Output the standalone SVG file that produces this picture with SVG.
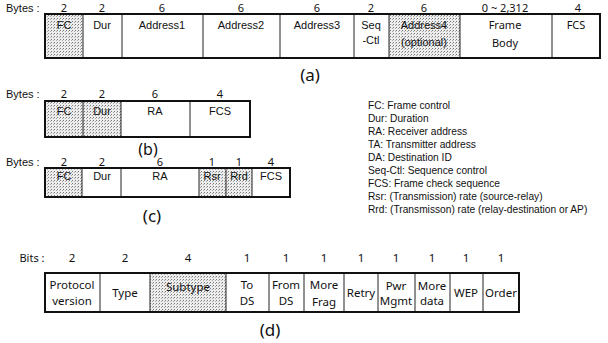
<svg xmlns="http://www.w3.org/2000/svg" width="608" height="343" viewBox="0 0 608 343">
<defs>
<pattern id="dots" width="3" height="3" patternUnits="userSpaceOnUse">
<rect width="3" height="3" fill="#eeeeee"/>
<rect x="0" y="0" width="1" height="1" fill="#777"/>
<rect x="2" y="1" width="1" height="1" fill="#a8a8a8"/>
</pattern>
</defs>
<style>
.frame{fill:none;stroke:#111;stroke-width:2}
.div{stroke:#222;stroke-width:1}
.sh{fill:url(#dots)}
.t{font-family:"Liberation Sans",Arial,sans-serif;font-size:11px;fill:#111;text-anchor:middle}
.n{font-family:"Noto Sans","Open Sans",sans-serif;font-size:11px;fill:#111;text-anchor:middle}
.h{font-family:"Liberation Sans",Arial,sans-serif;font-size:11px;fill:#111}
.d{font-family:"Noto Sans","Open Sans",sans-serif;font-size:11.5px;fill:#111;text-anchor:middle}
.cap{font-family:"Noto Sans","Open Sans",sans-serif;font-size:17px;fill:#111;text-anchor:middle}
.lg{font-family:"Liberation Sans",Arial,sans-serif;font-size:10.2px;fill:#111}
</style>

<g id="frame-a">
<text class="h" x="6" y="12">Bytes :</text>
<g class="n">
<text x="64" y="12">2</text><text x="102" y="12">2</text><text x="162" y="12">6</text><text x="241" y="12">6</text><text x="317" y="12">6</text><text x="371" y="12">2</text><text x="424" y="12">6</text><text x="505" y="12">0 ~ 2,312</text><text x="578" y="12">4</text>
</g>
<rect class="sh" x="45" y="14" width="38" height="44"/>
<rect class="sh" x="389" y="14" width="71" height="44"/>
<line class="div" x1="83" y1="14" x2="83" y2="58"/>
<line class="div" x1="122" y1="14" x2="122" y2="58"/>
<line class="div" x1="203" y1="14" x2="203" y2="58"/>
<line class="div" x1="280" y1="14" x2="280" y2="58"/>
<line class="div" x1="354" y1="14" x2="354" y2="58"/>
<line class="div" x1="389" y1="14" x2="389" y2="58"/>
<line class="div" x1="460" y1="14" x2="460" y2="58"/>
<line class="div" x1="552" y1="14" x2="552" y2="58"/>
<rect class="frame" x="45" y="14" width="555" height="44"/>
<g class="t">
<text x="64" y="29">FC</text><text x="102" y="29">Dur</text><text x="162" y="29">Address1</text><text x="241" y="29">Address2</text><text x="317" y="29">Address3</text>
<text x="371" y="29">Seq</text><text x="371" y="44">-Ctl</text>
<text x="424" y="29">Address4</text><text x="424" y="46">(optional)</text>
</g>
<g class="n">
<text x="505" y="29">Frame</text><text x="505" y="47">Body</text><text x="576" y="29">FCS</text>
</g>
<text class="cap" x="310" y="81">(a)</text>
</g>

<g id="frame-b">
<text class="h" x="6" y="98">Bytes :</text>
<g class="n">
<text x="64" y="98">2</text><text x="102" y="98">2</text><text x="155" y="98">6</text><text x="220" y="98">4</text>
</g>
<rect class="sh" x="45" y="101" width="76" height="36"/>
<line class="div" x1="83" y1="101" x2="83" y2="137"/>
<line class="div" x1="121" y1="101" x2="121" y2="137"/>
<line class="div" x1="190" y1="101" x2="190" y2="137"/>
<rect class="frame" x="45" y="101" width="205" height="36"/>
<g class="t">
<text x="64" y="115">FC</text><text x="102" y="115">Dur</text><text x="155" y="115">RA</text><text x="220" y="115">FCS</text>
</g>
<text class="cap" x="148" y="155" style="font-size:16px">(b)</text>
</g>

<g id="frame-c">
<text class="h" x="6" y="166">Bytes :</text>
<g class="n">
<text x="64" y="166">2</text><text x="102" y="166">2</text><text x="160" y="166">6</text><text x="212" y="166">1</text><text x="239" y="166">1</text><text x="271" y="166">4</text>
</g>
<rect class="sh" x="45" y="168" width="37" height="29"/>
<rect class="sh" x="199" y="168" width="53" height="29"/>
<line class="div" x1="82" y1="168" x2="82" y2="197"/>
<line class="div" x1="121" y1="168" x2="121" y2="197"/>
<line class="div" x1="199" y1="168" x2="199" y2="197"/>
<line class="div" x1="226" y1="168" x2="226" y2="197"/>
<line class="div" x1="252" y1="168" x2="252" y2="197"/>
<rect class="frame" x="45" y="168" width="245" height="29"/>
<g class="t">
<text x="64" y="180">FC</text><text x="102" y="180">Dur</text><text x="160" y="180">RA</text><text x="212" y="180">Rsr</text><text x="239" y="180">Rrd</text><text x="271" y="180">FCS</text>
</g>
<text class="cap" x="152" y="222">(c)</text>
</g>

<g id="legend">
<text class="lg" x="368" y="109">FC: Frame control</text>
<text class="lg" x="368" y="122">Dur: Duration</text>
<text class="lg" x="368" y="135">RA: Receiver address</text>
<text class="lg" x="368" y="148">TA: Transmitter address</text>
<text class="lg" x="368" y="161">DA: Destination ID</text>
<text class="lg" x="368" y="174">Seq-Ctl: Sequence control</text>
<text class="lg" x="368" y="187">FCS: Frame check sequence</text>
<text class="lg" x="368" y="200">Rsr: (Transmission) rate (source-relay)</text>
<text class="lg" x="368" y="213">Rrd: (Transmisson) rate (relay-destination or AP)</text>
</g>

<g id="frame-d">
<text class="d" x="32" y="262" style="font-size:11px">Bits :</text>
<g class="d">
<text x="72" y="262">2</text><text x="125" y="262">2</text><text x="188" y="262">4</text><text x="247" y="262">1</text><text x="286" y="262">1</text><text x="324" y="262">1</text><text x="361" y="262">1</text><text x="396" y="262">1</text><text x="432" y="262">1</text><text x="466" y="262">1</text><text x="501" y="262">1</text>
</g>
<rect class="sh" x="150" y="273" width="76" height="39"/>
<line class="div" x1="100" y1="273" x2="100" y2="312"/>
<line class="div" x1="150" y1="273" x2="150" y2="312"/>
<line class="div" x1="226" y1="273" x2="226" y2="312"/>
<line class="div" x1="269" y1="273" x2="269" y2="312"/>
<line class="div" x1="304" y1="273" x2="304" y2="312"/>
<line class="div" x1="344" y1="273" x2="344" y2="312"/>
<line class="div" x1="378" y1="273" x2="378" y2="312"/>
<line class="div" x1="415" y1="273" x2="415" y2="312"/>
<line class="div" x1="450" y1="273" x2="450" y2="312"/>
<line class="div" x1="483" y1="273" x2="483" y2="312"/>
<rect class="frame" x="45" y="273" width="474" height="39"/>
<g class="d">
<text x="72" y="289">Protocol</text><text x="72" y="305">version</text>
<text x="125" y="297">Type</text>
<text x="188" y="291">Subtype</text>
<text x="247" y="289">To</text><text x="247" y="305">DS</text>
<text x="286" y="289">From</text><text x="286" y="305">DS</text>
<text x="324" y="289">More</text><text x="324" y="306">Frag</text>
<text x="361" y="297">Retry</text>
<text x="396" y="290">Pwr</text><text x="396" y="305">Mgmt</text>
<text x="432" y="290">More</text><text x="432" y="305">data</text>
<text x="466" y="297">WEP</text>
<text x="501" y="297">Order</text>
</g>
<text class="cap" x="270" y="336">(d)</text>
</g>
</svg>
